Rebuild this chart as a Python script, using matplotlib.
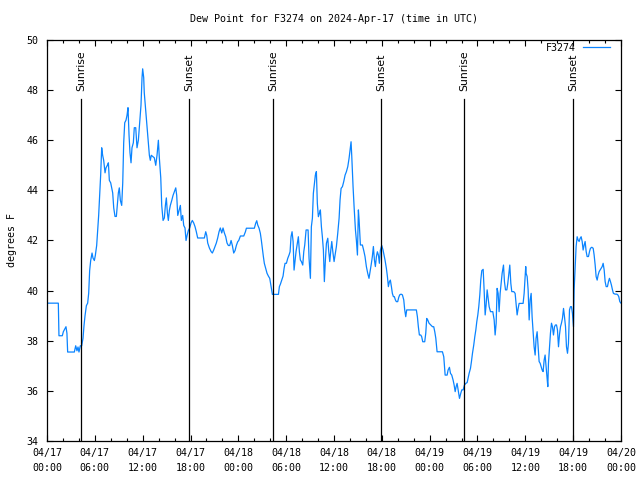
import matplotlib
matplotlib.use("Agg")
import matplotlib.pyplot as plt
from matplotlib.ticker import MultipleLocator

# hours since 2024-04-17 00:00 UTC, dew point in degrees F
hours = [
    0.0, 1.42, 1.5, 1.92, 2.05, 2.38, 2.5, 2.59, 3.43, 3.6, 3.76, 3.89, 4.01, 4.18, 4.35,
    4.52, 4.64, 4.77, 4.94, 5.1, 5.23, 5.35, 5.48, 5.65, 5.77, 5.94, 6.06, 6.23, 6.36, 6.48,
    6.61, 6.73, 6.86, 6.98, 7.11, 7.28, 7.4, 7.57, 7.7, 7.82, 7.99, 8.11, 8.24, 8.37, 8.53,
    8.7, 8.82, 8.95, 9.07, 9.2, 9.37, 9.5, 9.62, 9.75, 9.91, 10.04, 10.16, 10.29, 10.41, 10.54,
    10.66, 10.83, 10.95, 11.13, 11.29, 11.46, 11.63, 11.79, 11.92, 12.0, 12.13, 12.2, 12.33, 12.46, 12.58,
    12.71, 12.84, 12.96, 13.08, 13.26, 13.46, 13.64, 13.8, 13.97, 14.09, 14.27, 14.39, 14.56, 14.72, 14.85,
    14.97, 15.1, 15.22, 15.35, 15.47, 15.65, 15.81, 15.98, 16.15, 16.27, 16.4, 16.56, 16.73, 16.85, 17.02,
    17.15, 17.31, 17.44, 17.57, 17.73, 17.9, 18.07, 18.23, 18.4, 18.57, 18.73, 18.9, 19.74, 19.91, 20.04,
    20.16, 20.37, 20.58, 20.74, 20.91, 21.08, 21.24, 21.41, 21.58, 21.74, 21.92, 22.08, 22.25, 22.42, 22.58,
    22.75, 22.92, 23.09, 23.25, 23.42, 23.59, 23.75, 23.92, 24.05, 24.26, 24.68, 24.89, 25.01, 26.01, 26.18,
    26.31, 26.43, 26.6, 26.76, 26.89, 27.01, 27.14, 27.26, 27.43, 27.6, 27.77, 27.94, 28.11, 28.27, 29.03,
    29.15, 29.28, 29.45, 29.61, 29.74, 29.86, 30.03, 30.2, 30.36, 30.49, 30.61, 30.74, 30.87, 30.99, 31.12,
    31.24, 31.37, 31.53, 31.66, 31.78, 31.91, 32.08, 32.21, 32.33, 32.5, 32.75, 32.87, 33.04, 33.16, 33.29,
    33.41, 33.54, 33.66, 33.79, 33.91, 34.04, 34.17, 34.29, 34.42, 34.54, 34.67, 34.79, 34.92, 35.05, 35.22,
    35.34, 35.47, 35.6, 35.72, 35.85, 36.01, 36.14, 36.3, 36.47, 36.64, 36.76, 36.89, 37.06, 37.22, 37.39,
    37.56, 37.73, 37.89, 38.06, 38.14, 38.23, 38.39, 38.52, 38.69, 38.81, 38.94, 39.06, 39.15, 39.31, 39.56,
    39.73, 39.89, 40.06, 40.23, 40.39, 40.52, 40.69, 40.81, 40.94, 41.07, 41.19, 41.32, 41.44, 41.57, 41.69,
    41.82, 41.99, 42.15, 42.28, 42.4, 42.57, 42.7, 42.82, 42.95, 43.07, 43.2, 43.32, 43.45, 43.57, 43.7,
    43.82, 43.99, 44.12, 44.24, 44.41, 44.58, 44.75, 44.87, 45.0, 45.12, 45.29, 46.33, 46.46, 46.58, 46.71,
    46.88, 47.0, 47.13, 47.38, 47.51, 47.63, 47.76, 47.92, 48.14, 48.35, 48.51, 48.64, 48.77, 48.93, 49.6,
    49.77, 49.9, 49.94, 50.19, 50.31, 50.48, 50.61, 50.77, 50.94, 51.07, 51.2, 51.32, 51.44, 51.61, 51.74,
    51.9, 52.03, 52.2, 52.36, 52.53, 52.7, 52.82, 52.95, 53.12, 53.24, 53.37, 53.53, 53.66, 53.79, 53.91,
    54.04, 54.16, 54.29, 54.41, 54.54, 54.71, 54.83, 54.96, 55.08, 55.21, 55.33, 55.46, 55.63, 55.92, 56.09,
    56.21, 56.34, 56.46, 56.59, 56.71, 56.84, 56.97, 57.09, 57.26, 57.38, 57.51, 57.68, 57.8, 57.93, 58.05,
    58.18, 58.3, 58.55, 58.72, 58.85, 58.97, 59.1, 59.22, 59.72, 59.85, 59.97, 60.05, 60.1, 60.23, 60.35,
    60.48, 60.6, 60.73, 60.85, 60.98, 61.1, 61.23, 61.35, 61.48, 61.6, 61.73, 61.86, 61.98, 62.11, 62.23,
    62.36, 62.48, 62.61, 62.73, 62.82, 62.9, 63.03, 63.15, 63.28, 63.4, 63.53, 63.66, 63.78, 63.91, 64.03,
    64.16, 64.28, 64.41, 64.53, 64.66, 64.79, 64.91, 65.04, 65.16, 65.29, 65.41, 65.54, 65.66, 65.79, 65.91,
    66.04, 66.12, 66.25, 66.37, 66.5, 66.62, 66.75, 66.88, 67.0, 67.13, 67.25, 67.38, 67.5, 67.63, 67.75,
    67.92, 68.05, 68.17, 68.34, 68.51, 68.63, 68.76, 68.88, 69.01, 69.13, 69.26, 69.38, 69.51, 69.64, 69.76,
    69.89, 70.01, 70.14, 70.3, 70.43, 70.55, 70.68, 70.8, 70.93, 71.05, 71.26, 71.47, 71.6, 71.72, 71.85,
    72.0,
]
dewpt = [
    39.5, 39.5, 38.2, 38.2, 38.36, 38.56, 38.3, 37.55, 37.55, 37.8, 37.6, 37.75, 37.55, 37.8, 37.8,
    38.1, 38.6, 39.0, 39.4, 39.5, 39.9, 40.8, 41.2, 41.5, 41.3, 41.2, 41.4, 41.8, 42.4, 43.0,
    43.8, 44.6, 45.7, 45.4, 45.2, 44.7, 44.9, 45.0, 45.1, 44.4, 44.3, 44.1, 43.9, 43.3, 42.96,
    42.96, 43.4, 43.9, 44.1, 43.6, 43.4, 44.3, 45.9, 46.7, 46.8, 47.0, 47.3, 46.2, 45.5, 45.1,
    45.7, 45.9, 46.5, 46.5, 45.7, 46.0, 46.7, 47.4, 48.5, 48.85, 48.5, 47.9, 47.4, 46.9, 46.4,
    45.9, 45.4, 45.2, 45.4, 45.35, 45.3, 45.0, 45.4, 46.0, 45.3, 44.5, 43.4, 42.8, 42.9, 43.4,
    43.7, 43.1, 42.8, 43.2, 43.4, 43.6, 43.8, 43.95, 44.1, 43.8, 43.0, 43.2, 43.4, 42.8, 43.0,
    42.6, 42.5, 42.0, 42.2, 42.4, 42.5, 42.7, 42.8, 42.7, 42.55, 42.35, 42.1, 42.1, 42.35, 42.2,
    41.9, 41.7, 41.56, 41.5, 41.62, 41.76, 41.9, 42.1, 42.35, 42.5, 42.3, 42.5, 42.3, 42.15, 41.9,
    41.8, 41.8, 42.0, 41.8, 41.5, 41.6, 41.8, 41.95, 42.0, 42.18, 42.18, 42.35, 42.49, 42.49, 42.69,
    42.79, 42.62, 42.49, 42.29, 42.0, 41.69, 41.36, 41.09, 40.89, 40.69, 40.58, 40.49, 40.16, 39.85, 39.85,
    40.16, 40.26, 40.42, 40.58, 40.89, 41.09, 41.09, 41.29, 41.42, 41.55, 42.15, 42.35, 41.96, 40.82, 41.22,
    41.56, 41.82, 42.15, 41.55, 41.22, 41.16, 41.02, 41.56, 41.82, 42.42, 42.42, 41.29, 40.49, 42.55, 42.89,
    43.88, 44.28, 44.61, 44.75, 43.48, 42.95, 43.08, 43.22, 42.55, 42.15, 41.62, 40.36, 41.22, 41.89, 42.09,
    41.56, 41.16, 41.62, 41.96, 41.56, 41.16, 41.42, 41.76, 42.29, 42.89, 43.62, 44.08, 44.15, 44.35, 44.61,
    44.75, 44.95, 45.28, 45.72, 45.94, 45.35, 44.15, 43.35, 42.42, 42.0, 41.42, 43.22, 42.8, 41.82, 41.82,
    41.6, 41.36, 40.96, 40.69, 40.49, 40.75, 41.09, 41.36, 41.76, 41.22, 40.96, 41.36, 41.55, 41.42, 41.09,
    41.62, 41.8, 41.62, 41.42, 41.22, 40.89, 40.56, 40.16, 40.36, 40.42, 40.16, 39.89, 39.76, 39.76, 39.63,
    39.56, 39.56, 39.73, 39.83, 39.86, 39.83, 39.63, 39.23, 38.96, 39.23, 39.23, 39.23, 38.96, 38.56, 38.23,
    38.23, 38.16, 37.96, 37.96, 38.3, 38.89, 38.83, 38.7, 38.63, 38.56, 38.56, 38.36, 38.1, 37.56, 37.56,
    37.36, 36.83, 36.63, 36.63, 36.83, 36.94, 36.7, 36.63, 36.43, 36.23, 35.97, 36.17, 36.3, 35.97, 35.7,
    35.9, 36.04, 36.04, 36.23, 36.3, 36.33, 36.5, 36.7, 36.9, 37.17, 37.5, 37.83, 38.16, 38.43, 38.76,
    39.03, 39.36, 39.83, 40.42, 40.8, 40.85, 40.03, 39.03, 39.43, 40.03, 39.69, 39.36, 39.16, 39.16, 38.83,
    38.23, 38.7, 40.09, 39.89, 39.16, 39.89, 40.29, 40.69, 41.02, 40.36, 40.03, 40.03, 40.29, 40.69, 41.02,
    40.29, 39.96, 39.96, 39.89, 39.43, 39.03, 39.29, 39.49, 39.49, 39.89, 40.56, 40.96, 40.69, 40.56, 40.03,
    38.83, 39.63, 39.89, 38.96, 38.3, 37.76, 37.43, 38.1, 38.36, 37.76, 37.17, 37.1, 36.97, 36.83, 36.77,
    37.23, 37.43, 36.97, 36.5, 36.17, 37.1, 37.7, 38.3, 38.7, 38.56, 38.23, 38.56, 38.63, 38.63, 38.43,
    37.76, 38.23, 38.56, 38.7, 38.9, 39.29, 38.96, 38.56, 37.76, 37.5, 37.9, 39.23, 39.36, 39.36, 39.09,
    38.56, 40.03, 40.96, 41.76, 42.15, 42.02, 41.96, 42.09, 42.15, 41.96, 41.62, 41.82, 41.96, 41.56, 41.36,
    41.36, 41.56, 41.69, 41.73, 41.69, 41.42, 41.02, 40.56, 40.42, 40.62, 40.76, 40.82, 40.89, 40.96, 41.09,
    40.82, 40.36, 40.16, 40.16, 40.36, 40.49, 40.36, 40.22, 40.03, 39.89, 39.86, 39.86, 39.83, 39.76, 39.56,
    39.5,
]

sunrise = [4.27, 28.33, 52.33]
sunset = [17.86, 41.93, 66.02]

xtick_hours = list(range(0, 73, 6))
xtick_labels = ["04/17\n00:00", "04/17\n06:00", "04/17\n12:00", "04/17\n18:00",
                "04/18\n00:00", "04/18\n06:00", "04/18\n12:00", "04/18\n18:00",
                "04/19\n00:00", "04/19\n06:00", "04/19\n12:00", "04/19\n18:00",
                "04/20\n00:00"]

mono = "DejaVu Sans Mono"

fig = plt.figure(figsize=(6.4, 4.8), dpi=100)
ax = fig.add_axes([47 / 640, 1 - 441 / 480, 574 / 640, 401 / 480])

ax.plot(hours, dewpt, color="#0a84ff", lw=0.9, label="F3274")

for h in sunrise:
    ax.plot([h, h], [34, 47.65], color="black", lw=0.9)
    ax.text(h, 47.95, "Sunrise", rotation=90, ha="center", va="bottom",
            fontsize=7.8, family="DejaVu Sans")
for h in sunset:
    ax.plot([h, h], [34, 47.65], color="black", lw=0.9)
    ax.text(h, 47.95, "Sunset", rotation=90, ha="center", va="bottom",
            fontsize=7.8, family="DejaVu Sans")

ax.set_xlim(0, 72)
ax.set_ylim(34, 50)
ax.set_xticks(xtick_hours)
ax.set_xticklabels(xtick_labels, family=mono, fontsize=7.2, linespacing=1.65)
ax.xaxis.set_minor_locator(MultipleLocator(2))
ax.yaxis.set_major_locator(MultipleLocator(2))
for lab in ax.get_yticklabels():
    lab.set_family(mono)
    lab.set_fontsize(7.2)

ax.tick_params(which="both", direction="in", top=True, right=True, color="black")
ax.tick_params(which="major", length=4.5, width=0.8)
ax.tick_params(which="minor", length=2.5, width=0.8)
ax.tick_params(axis="x", pad=5)
ax.tick_params(axis="y", pad=6)
for sp in ax.spines.values():
    sp.set_linewidth(0.9)

ax.set_ylabel("degrees F", family=mono, fontsize=7.2, labelpad=7)
fig.text(334 / 640, 1 - 19 / 480, "Dew Point for F3274 on 2024-Apr-17 (time in UTC)",
         ha="center", va="center", family=mono, fontsize=7.2)

leg = ax.legend(loc="upper right", bbox_to_anchor=(0.981, 0.993), frameon=False,
                markerfirst=False, prop={"family": mono, "size": 7.2},
                handlelength=2.7, borderaxespad=0, borderpad=0, handletextpad=0.7)

fig.savefig("out.png", dpi=100)
